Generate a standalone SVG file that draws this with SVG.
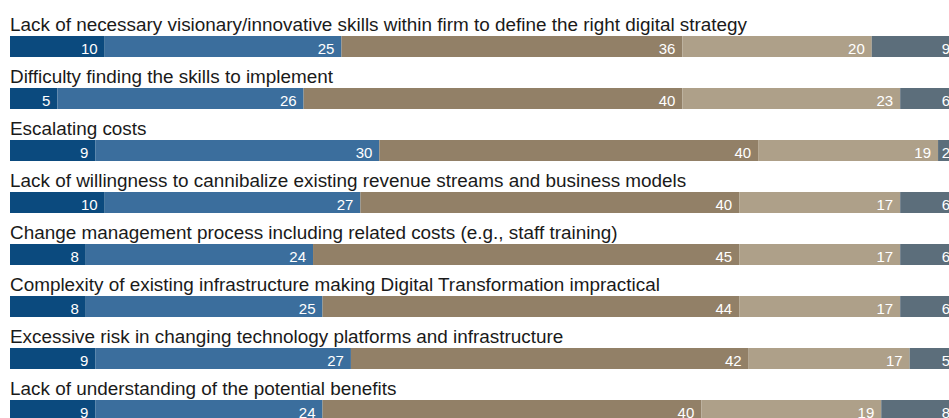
<svg xmlns="http://www.w3.org/2000/svg" width="949" height="418" viewBox="0 0 949 418">
<style>
.t{font-family:"Liberation Sans",Arial,Helvetica,sans-serif;font-size:18.9px;fill:#1a1a1a}
.n{font-family:"Liberation Sans",Arial,Helvetica,sans-serif;font-size:15px;fill:#ffffff;text-anchor:end}
.c1{fill:#0b4a7e}.c2{fill:#3b6e9d}.c3{fill:#928067}.c4{fill:#aea089}.c5{fill:#5c6e7b}
</style>
<rect width="949" height="418" fill="#ffffff"/>
<g id="row1" transform="translate(0,36)">
<text class="t" x="10" y="-5">Lack of necessary visionary/innovative skills within firm to define the right digital strategy</text>
<rect class="c1" x="10" y="0" width="94.7" height="21"/><rect class="c2" x="104.7" y="0" width="236.75" height="21"/><rect class="c3" x="341.45" y="0" width="340.92" height="21"/><rect class="c4" x="682.37" y="0" width="189.4" height="21"/><rect class="c5" x="871.77" y="0" width="85.23" height="21"/>
<text class="n" x="97.7" y="17.5">10</text><text class="n" x="334.45" y="17.5">25</text><text class="n" x="675.37" y="17.5">36</text><text class="n" x="864.77" y="17.5">20</text><text class="n" x="950" y="17.5">9</text>
</g>
<g id="row2" transform="translate(0,88)">
<text class="t" x="10" y="-5">Difficulty finding the skills to implement</text>
<rect class="c1" x="10" y="0" width="47.35" height="21"/><rect class="c2" x="57.35" y="0" width="246.22" height="21"/><rect class="c3" x="303.57" y="0" width="378.8" height="21"/><rect class="c4" x="682.37" y="0" width="217.81" height="21"/><rect class="c5" x="900.18" y="0" width="56.82" height="21"/>
<text class="n" x="50.35" y="17.5">5</text><text class="n" x="296.57" y="17.5">26</text><text class="n" x="675.37" y="17.5">40</text><text class="n" x="893.18" y="17.5">23</text><text class="n" x="950" y="17.5">6</text>
</g>
<g id="row3" transform="translate(0,140)">
<text class="t" x="10" y="-5">Escalating costs</text>
<rect class="c1" x="10" y="0" width="85.23" height="21"/><rect class="c2" x="95.23" y="0" width="284.1" height="21"/><rect class="c3" x="379.33" y="0" width="378.8" height="21"/><rect class="c4" x="758.13" y="0" width="179.93" height="21"/><rect class="c5" x="938.06" y="0" width="18.94" height="21"/>
<text class="n" x="88.23" y="17.5">9</text><text class="n" x="372.33" y="17.5">30</text><text class="n" x="751.13" y="17.5">40</text><text class="n" x="931.06" y="17.5">19</text><text class="n" x="950" y="17.5">2</text>
</g>
<g id="row4" transform="translate(0,192)">
<text class="t" x="10" y="-5">Lack of willingness to cannibalize existing revenue streams and business models</text>
<rect class="c1" x="10" y="0" width="94.7" height="21"/><rect class="c2" x="104.7" y="0" width="255.69" height="21"/><rect class="c3" x="360.39" y="0" width="378.8" height="21"/><rect class="c4" x="739.19" y="0" width="160.99" height="21"/><rect class="c5" x="900.18" y="0" width="56.82" height="21"/>
<text class="n" x="97.7" y="17.5">10</text><text class="n" x="353.39" y="17.5">27</text><text class="n" x="732.19" y="17.5">40</text><text class="n" x="893.18" y="17.5">17</text><text class="n" x="950" y="17.5">6</text>
</g>
<g id="row5" transform="translate(0,244)">
<text class="t" x="10" y="-5">Change management process including related costs (e.g., staff training)</text>
<rect class="c1" x="10" y="0" width="75.76" height="21"/><rect class="c2" x="85.76" y="0" width="227.28" height="21"/><rect class="c3" x="313.04" y="0" width="426.15" height="21"/><rect class="c4" x="739.19" y="0" width="160.99" height="21"/><rect class="c5" x="900.18" y="0" width="56.82" height="21"/>
<text class="n" x="78.76" y="17.5">8</text><text class="n" x="306.04" y="17.5">24</text><text class="n" x="732.19" y="17.5">45</text><text class="n" x="893.18" y="17.5">17</text><text class="n" x="950" y="17.5">6</text>
</g>
<g id="row6" transform="translate(0,296)">
<text class="t" x="10" y="-5">Complexity of existing infrastructure making Digital Transformation impractical</text>
<rect class="c1" x="10" y="0" width="75.76" height="21"/><rect class="c2" x="85.76" y="0" width="236.75" height="21"/><rect class="c3" x="322.51" y="0" width="416.68" height="21"/><rect class="c4" x="739.19" y="0" width="160.99" height="21"/><rect class="c5" x="900.18" y="0" width="56.82" height="21"/>
<text class="n" x="78.76" y="17.5">8</text><text class="n" x="315.51" y="17.5">25</text><text class="n" x="732.19" y="17.5">44</text><text class="n" x="893.18" y="17.5">17</text><text class="n" x="950" y="17.5">6</text>
</g>
<g id="row7" transform="translate(0,348)">
<text class="t" x="10" y="-5">Excessive risk in changing technology platforms and infrastructure</text>
<rect class="c1" x="10" y="0" width="85.23" height="21"/><rect class="c2" x="95.23" y="0" width="255.69" height="21"/><rect class="c3" x="350.92" y="0" width="397.74" height="21"/><rect class="c4" x="748.66" y="0" width="160.99" height="21"/><rect class="c5" x="909.65" y="0" width="47.35" height="21"/>
<text class="n" x="88.23" y="17.5">9</text><text class="n" x="343.92" y="17.5">27</text><text class="n" x="741.66" y="17.5">42</text><text class="n" x="902.65" y="17.5">17</text><text class="n" x="950" y="17.5">5</text>
</g>
<g id="row8" transform="translate(0,400)">
<text class="t" x="10" y="-5">Lack of understanding of the potential benefits</text>
<rect class="c1" x="10" y="0" width="85.23" height="21"/><rect class="c2" x="95.23" y="0" width="227.28" height="21"/><rect class="c3" x="322.51" y="0" width="378.8" height="21"/><rect class="c4" x="701.31" y="0" width="179.93" height="21"/><rect class="c5" x="881.24" y="0" width="75.76" height="21"/>
<text class="n" x="88.23" y="17.5">9</text><text class="n" x="315.51" y="17.5">24</text><text class="n" x="694.31" y="17.5">40</text><text class="n" x="874.24" y="17.5">19</text><text class="n" x="950" y="17.5">8</text>
</g>
</svg>
